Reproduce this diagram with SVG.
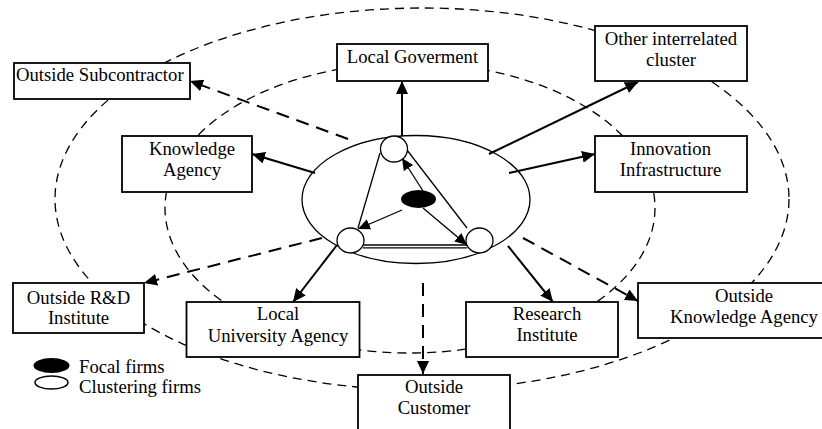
<svg xmlns="http://www.w3.org/2000/svg" width="822" height="429" viewBox="0 0 822 429">
<defs>
<style>
.ring{fill:none;stroke:#000;stroke-width:1.3;stroke-dasharray:9 6}
.box{fill:#fff;stroke:#000;stroke-width:1.8}
.t{font-family:"Liberation Serif","Times New Roman",serif;font-size:18.7px;fill:#000}
.m{text-anchor:middle}
.solid{stroke:#000;stroke-width:2;fill:none}
.dash{stroke:#000;stroke-width:2;fill:none;stroke-dasharray:13 8}
.thin{stroke:#000;stroke-width:1.3;fill:none}
.firm{fill:#fff;stroke:#000;stroke-width:1.3}
</style>
<marker id="ah" markerUnits="userSpaceOnUse" markerWidth="14" markerHeight="12" refX="13" refY="6" orient="auto">
<path d="M0,0 L13,6 L0,12 Z" fill="#000"/>
</marker>
<marker id="ahs" markerUnits="userSpaceOnUse" markerWidth="13" markerHeight="12" refX="12" refY="6" orient="auto">
<path d="M0,0.5 L12,6 L0,11.5 Z" fill="#000"/>
</marker>
</defs>
<rect width="822" height="429" fill="#fff"/>
<g id="rings">
<ellipse class="ring" cx="422" cy="199" rx="367" ry="191"/>
<ellipse class="ring" cx="410" cy="208" rx="245" ry="145"/>
</g>
<g id="core">
<ellipse cx="416" cy="199.5" rx="114" ry="64" fill="none" stroke="#000" stroke-width="1.3"/>
</g>
<g id="connectors">
<line class="solid" x1="402" y1="136" x2="402" y2="81" marker-end="url(#ah)"/>
<line class="solid" x1="315" y1="173" x2="252" y2="154" marker-end="url(#ah)"/>
<line class="solid" x1="489" y1="154" x2="638" y2="82" marker-end="url(#ah)"/>
<line class="solid" x1="509" y1="173" x2="595" y2="154" marker-end="url(#ah)"/>
<line class="solid" x1="337" y1="245" x2="293" y2="302" marker-end="url(#ah)"/>
<line class="solid" x1="508" y1="246" x2="553" y2="302" marker-end="url(#ah)"/>
<line class="dash" x1="348" y1="139" x2="190" y2="81" marker-end="url(#ah)"/>
<line class="dash" x1="322" y1="238" x2="144" y2="283" marker-end="url(#ah)"/>
<line class="dash" x1="423" y1="283" x2="423" y2="374" marker-end="url(#ah)"/>
<line class="dash" x1="523" y1="238" x2="638" y2="301" marker-end="url(#ah)"/>
<line class="thin" x1="380" y1="153" x2="358" y2="228"/>
<line class="thin" x1="407" y1="150" x2="467" y2="228"/>
<line class="thin" x1="363" y1="245" x2="467" y2="245"/>
<line class="thin" x1="363" y1="247.8" x2="467" y2="247.8"/>
<line class="thin" x1="423" y1="191" x2="402" y2="158" marker-end="url(#ahs)"/>
<line class="thin" x1="402" y1="210" x2="358" y2="229" marker-end="url(#ahs)"/>
<line class="thin" x1="423" y1="208" x2="467" y2="245" marker-end="url(#ahs)"/>
</g>
<g id="firms">
<ellipse class="firm" cx="394" cy="149" rx="13.5" ry="13"/>
<ellipse class="firm" cx="350.5" cy="240.5" rx="13.5" ry="12.5"/>
<ellipse class="firm" cx="479.5" cy="240.5" rx="13.5" ry="12.5"/>
<ellipse cx="418.5" cy="199" rx="17.5" ry="9" fill="#000"/>
</g>
<g id="outside-subcontractor">
<rect class="box" x="14" y="63" width="176" height="36"/>
<text class="t" x="16" y="81">Outside Subcontractor</text>
</g>
<g id="local-goverment">
<rect class="box" x="337" y="44" width="151" height="37"/>
<text class="t m" x="412.5" y="63">Local Goverment</text>
</g>
<g id="other-cluster">
<rect class="box" x="595" y="26" width="152" height="55"/>
<text class="t m" x="671" y="44.5">Other interrelated</text>
<text class="t m" x="671" y="65.5">cluster</text>
</g>
<g id="knowledge-agency">
<rect class="box" x="122" y="136" width="130" height="56"/>
<text class="t m" x="192" y="154.5">Knowledge</text>
<text class="t m" x="192" y="175.5">Agency</text>
</g>
<g id="innovation-infrastructure">
<rect class="box" x="595" y="136" width="152" height="56"/>
<text class="t m" x="670.5" y="154.5">Innovation</text>
<text class="t m" x="670.5" y="175.5">Infrastructure</text>
</g>
<g id="outside-rd">
<rect class="box" x="13" y="283" width="131" height="50"/>
<text class="t m" x="78.5" y="304">Outside R&amp;D</text>
<text class="t m" x="78.5" y="324">Institute</text>
</g>
<g id="local-university">
<rect class="box" x="186.5" y="302" width="173" height="55"/>
<text class="t m" x="278" y="319.5">Local</text>
<text class="t m" x="278" y="341.5">University Agency</text>
</g>
<g id="research-institute">
<rect class="box" x="466" y="302" width="152" height="55"/>
<text class="t m" x="547" y="320">Research</text>
<text class="t m" x="547" y="341">Institute</text>
</g>
<g id="outside-knowledge-agency">
<rect class="box" x="638" y="283" width="190" height="55"/>
<text class="t m" x="744" y="302">Outside</text>
<text class="t m" x="744" y="323">Knowledge Agency</text>
</g>
<g id="outside-customer">
<rect class="box" x="358" y="375" width="152" height="60"/>
<text class="t m" x="434" y="393">Outside</text>
<text class="t m" x="434" y="414">Customer</text>
</g>
<g id="legend">
<ellipse cx="51.5" cy="365.5" rx="18" ry="7.5" fill="#000"/>
<ellipse cx="51.5" cy="382.5" rx="16.5" ry="6.5" fill="#fff" stroke="#000" stroke-width="1.5"/>
<text class="t" x="79" y="373">Focal firms</text>
<text class="t" x="79" y="393">Clustering firms</text>
</g>
</svg>
